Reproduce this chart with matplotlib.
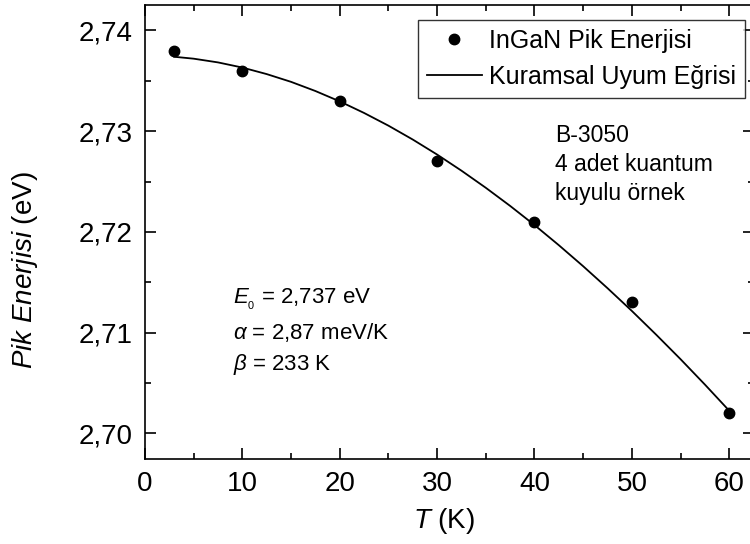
import numpy as np
import matplotlib
matplotlib.use("Agg")
import matplotlib.pyplot as plt
from matplotlib.ticker import MultipleLocator, FuncFormatter

plt.rcParams["font.family"] = ["Liberation Sans", "DejaVu Sans"]
plt.rcParams["mathtext.fontset"] = "custom"
plt.rcParams["mathtext.rm"] = "Liberation Sans"
plt.rcParams["mathtext.it"] = "Liberation Sans:italic"

# measured peak energies
T_data = [3, 10, 20, 30, 40, 50, 60]
E_data = [2.738, 2.736, 2.733, 2.727, 2.721, 2.713, 2.702]

# fit curve
T_fit = [3, 5, 7.5, 10, 12.5, 15, 17.5, 20, 22.5, 25, 27.5, 30, 32.5,
         35, 37.5, 40, 42.5, 45, 47.5, 50, 52.5, 55, 57.5, 60]
E_fit = [2.73739, 2.73720, 2.73683, 2.73632, 2.73567, 2.73490, 2.73399,
         2.73296, 2.73181, 2.73055, 2.72917, 2.72768, 2.72608, 2.72438,
         2.72258, 2.72068, 2.71868, 2.71659, 2.71441, 2.71215, 2.70979,
         2.70736, 2.70484, 2.70224]

fit_params = [r"$E_{_0}$ = 2,737 eV", r"$\alpha$ = 2,87 meV/K", r"$\beta$ = 233 K"]
sample_text = "B-3050\n4 adet kuantum\nkuyulu örnek"

fig = plt.figure(figsize=(7.5, 5.44), dpi=100)
ax = fig.add_axes([0.1933, 0.1568, 0.8115, 0.834])

ax.plot(T_data, E_data, "o", color="black", markersize=7.5, label="InGaN Pik Enerjisi")
ax.plot(T_fit, E_fit, "-", color="black", linewidth=1.3, label="Kuramsal Uyum Eğrisi")

ax.set_xlim(0, 62.5)
ax.set_ylim(2.69748, 2.74253)
ax.xaxis.set_major_locator(MultipleLocator(10))
ax.xaxis.set_minor_locator(MultipleLocator(5))
ax.yaxis.set_major_locator(MultipleLocator(0.01))
ax.yaxis.set_minor_locator(MultipleLocator(0.005))
ax.yaxis.set_major_formatter(FuncFormatter(lambda v, p: f"{v:.2f}".replace(".", ",")))

ax.tick_params(which="both", direction="in", top=True, right=True, width=1.2)
ax.tick_params(which="major", length=8, labelsize=20, pad=9)
ax.tick_params(which="minor", length=4)
for s in ax.spines.values():
    s.set_linewidth(1.2)

ax.set_xlabel(r"$T$ (K)", fontsize=20)
ax.set_ylabel(r"$Pik\ Enerjisi$ (eV)", fontsize=20)
ax.xaxis.set_label_coords(0.491, -0.105)
ax.yaxis.set_label_coords(-0.172, 0.415)

leg = ax.legend(loc="upper right", bbox_to_anchor=(0.986, 0.967), fontsize=18,
                frameon=True, fancybox=False, edgecolor="black", borderpad=0.35,
                labelspacing=0.5, handlelength=2.2, handletextpad=0.3,
                borderaxespad=0)
leg.get_frame().set_linewidth(1.0)

ax.text(42.1, 2.7307, sample_text, fontsize=16.5, linespacing=1.34, va="top")

ys = [2.7133, 2.7100, 2.7068]
for txt, y in zip(fit_params, ys):
    ax.text(9.0, y, txt, fontsize=16, va="center")

fig.savefig("out.png", dpi=100)
